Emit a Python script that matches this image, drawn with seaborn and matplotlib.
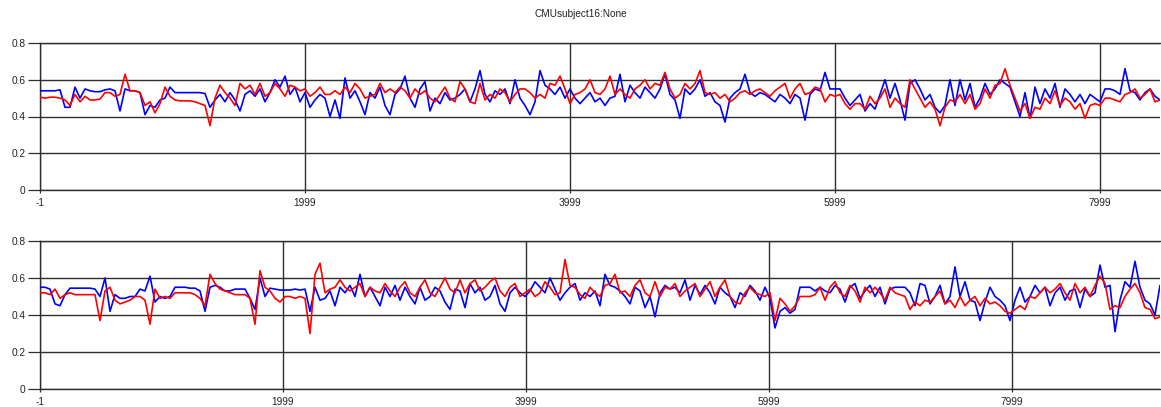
import numpy as np
import pandas as pd
import matplotlib
matplotlib.use("Agg")
import matplotlib.pyplot as plt
import seaborn as sns

# ---------------- data (one value every few frames) ----------------
title = "CMUsubject16:None"
x_ticks = [-1, 1999, 3999, 5999, 7999]
y_ticks = [0, 0.2, 0.4, 0.6, 0.8]
y_tick_labels = ["0", "0.2", "0.4", "0.6", "0.8"]

top_frames_total = 8453
bottom_frames_total = 9217

top_blue = [
    0.54, 0.54, 0.54, 0.54, 0.545, 0.45, 0.45, 0.56, 0.50, 0.55, 0.54, 0.535, 0.535, 0.545, 0.55, 0.54,
    0.43, 0.55, 0.54, 0.54, 0.53, 0.41, 0.46, 0.45, 0.49, 0.50, 0.56, 0.53, 0.53, 0.53, 0.53, 0.53,
    0.53, 0.525, 0.45, 0.49, 0.52, 0.48, 0.53, 0.49, 0.43, 0.52, 0.54, 0.51, 0.55, 0.48, 0.53, 0.60,
    0.56, 0.62, 0.52, 0.56,
    0.48, 0.53, 0.45, 0.49, 0.52, 0.50, 0.40, 0.49, 0.39, 0.61, 0.50, 0.54, 0.48, 0.41, 0.53, 0.50,
    0.56, 0.46, 0.41, 0.52, 0.55, 0.62, 0.50, 0.45, 0.55, 0.59, 0.43, 0.50, 0.47, 0.53, 0.49, 0.50,
    0.52, 0.55, 0.48, 0.55, 0.65, 0.52, 0.48, 0.54, 0.52, 0.55, 0.47, 0.60, 0.50, 0.46, 0.41, 0.48,
    0.65, 0.57, 0.55, 0.52, 0.56, 0.50, 0.55, 0.50,
    0.47, 0.50, 0.53, 0.48, 0.50, 0.46, 0.50, 0.51, 0.63, 0.48, 0.57, 0.53, 0.50, 0.56, 0.53, 0.50,
    0.55, 0.63, 0.52, 0.49, 0.39, 0.55, 0.52, 0.55, 0.60, 0.51, 0.53, 0.48, 0.46, 0.37, 0.50, 0.53,
    0.55, 0.63, 0.53, 0.51, 0.53, 0.52, 0.50, 0.48, 0.52, 0.50, 0.47, 0.52, 0.50, 0.38, 0.52, 0.55,
    0.54, 0.64, 0.55, 0.55, 0.55, 0.50, 0.46, 0.49,
    0.52, 0.43, 0.47, 0.44, 0.52, 0.60, 0.50, 0.58, 0.49, 0.38, 0.58, 0.60, 0.55, 0.49, 0.52, 0.45,
    0.42, 0.46, 0.60, 0.46, 0.60, 0.49, 0.58, 0.45, 0.50, 0.58, 0.52, 0.55, 0.60, 0.58, 0.56, 0.48,
    0.40, 0.53, 0.39, 0.56, 0.47, 0.55, 0.50, 0.58, 0.45, 0.55, 0.52, 0.48, 0.52, 0.47, 0.52, 0.50,
    0.48, 0.55, 0.55, 0.54, 0.52, 0.66, 0.54, 0.53, 0.49, 0.53, 0.55, 0.51, 0.49,
]

top_red = [
    0.505, 0.50, 0.505, 0.505, 0.50, 0.49, 0.46, 0.52, 0.48, 0.51, 0.49, 0.49, 0.495, 0.53, 0.53, 0.51,
    0.52, 0.63, 0.54, 0.54, 0.53, 0.46, 0.48, 0.42, 0.47, 0.56, 0.51, 0.49, 0.485, 0.485, 0.485, 0.48,
    0.47, 0.46, 0.35, 0.50, 0.57, 0.53, 0.50, 0.46, 0.58, 0.55, 0.57, 0.52, 0.58, 0.51, 0.53, 0.58,
    0.55, 0.51, 0.57, 0.56,
    0.54, 0.55, 0.51, 0.53, 0.56, 0.52, 0.52, 0.54, 0.52, 0.56, 0.53, 0.58, 0.55, 0.50, 0.51, 0.52,
    0.58, 0.53, 0.55, 0.53, 0.56, 0.54, 0.50, 0.55, 0.52, 0.54, 0.50, 0.48, 0.52, 0.56, 0.50, 0.48,
    0.59, 0.55, 0.48, 0.47, 0.58, 0.49, 0.52, 0.50, 0.55, 0.53, 0.48, 0.52, 0.55, 0.55, 0.53, 0.50,
    0.52, 0.50, 0.58, 0.57, 0.62, 0.55, 0.47, 0.52,
    0.53, 0.55, 0.60, 0.53, 0.52, 0.55, 0.62, 0.52, 0.55, 0.52, 0.50, 0.55, 0.57, 0.60, 0.55, 0.58,
    0.57, 0.64, 0.55, 0.50, 0.52, 0.58, 0.55, 0.58, 0.65, 0.53, 0.52, 0.53, 0.50, 0.52, 0.48, 0.50,
    0.53, 0.54, 0.52, 0.54, 0.55, 0.53, 0.51, 0.54, 0.56, 0.58, 0.50, 0.55, 0.58, 0.52, 0.53, 0.56,
    0.55, 0.48, 0.52, 0.51, 0.52, 0.47, 0.44, 0.47,
    0.47, 0.44, 0.51, 0.47, 0.50, 0.55, 0.45, 0.50, 0.47, 0.45, 0.60, 0.55, 0.50, 0.45, 0.48, 0.44,
    0.35, 0.45, 0.49, 0.48, 0.52, 0.47, 0.52, 0.44, 0.47, 0.55, 0.50, 0.57, 0.58, 0.66, 0.57, 0.50,
    0.43, 0.47, 0.39, 0.45, 0.44, 0.50, 0.47, 0.54, 0.46, 0.50, 0.48, 0.44, 0.47, 0.39, 0.46, 0.47,
    0.46, 0.50, 0.50, 0.49, 0.48, 0.52, 0.53, 0.55, 0.50, 0.52, 0.55, 0.48, 0.49,
]

bottom_blue = [
    0.55, 0.55, 0.54, 0.46, 0.45, 0.51, 0.545, 0.545, 0.545, 0.545, 0.545, 0.54, 0.50, 0.60, 0.42, 0.51,
    0.49, 0.49, 0.50, 0.50, 0.54, 0.53, 0.61, 0.47, 0.50, 0.49, 0.50, 0.55, 0.55, 0.55, 0.545, 0.545,
    0.53, 0.42, 0.55, 0.56, 0.55, 0.53, 0.53, 0.54, 0.54, 0.54, 0.49, 0.43, 0.60, 0.50, 0.545, 0.54,
    0.535, 0.535, 0.535, 0.54,
    0.535, 0.54, 0.42, 0.55, 0.48, 0.49, 0.53, 0.45, 0.55, 0.52, 0.56, 0.50, 0.62, 0.50, 0.55, 0.50,
    0.45, 0.55, 0.50, 0.56, 0.48, 0.55, 0.50, 0.46, 0.55, 0.48, 0.50, 0.55, 0.53, 0.47, 0.43, 0.54,
    0.53, 0.44, 0.57, 0.52, 0.55, 0.48, 0.50, 0.56, 0.46, 0.42, 0.52, 0.55, 0.52, 0.50, 0.53, 0.58,
    0.55, 0.52, 0.60, 0.54, 0.48, 0.52, 0.55, 0.57,
    0.48, 0.52, 0.50, 0.53, 0.45, 0.62, 0.56, 0.55, 0.53, 0.50, 0.46, 0.55, 0.53, 0.44, 0.50, 0.39,
    0.52, 0.56, 0.54, 0.55, 0.52, 0.59, 0.48, 0.56, 0.51, 0.56, 0.52, 0.46, 0.55, 0.52, 0.50, 0.44,
    0.52, 0.50, 0.56, 0.53, 0.48, 0.55, 0.49, 0.33, 0.42, 0.44, 0.41, 0.43, 0.55, 0.55, 0.55, 0.53,
    0.55, 0.53, 0.52, 0.56, 0.54, 0.47, 0.55, 0.57,
    0.49, 0.53, 0.56, 0.50, 0.55, 0.46, 0.54, 0.55, 0.55, 0.55, 0.52, 0.45, 0.57, 0.56, 0.46, 0.50,
    0.56, 0.46, 0.50, 0.66, 0.50, 0.58, 0.48, 0.47, 0.37, 0.47, 0.55, 0.50, 0.48, 0.45, 0.37, 0.48,
    0.55, 0.47, 0.50, 0.56, 0.52, 0.55, 0.45, 0.52, 0.55, 0.48, 0.53, 0.54, 0.44, 0.54, 0.50, 0.52,
    0.67, 0.55, 0.56, 0.31, 0.48, 0.58, 0.55, 0.69, 0.55, 0.48, 0.46, 0.40, 0.56,
]

bottom_red = [
    0.52, 0.52, 0.51, 0.54, 0.49, 0.51, 0.52, 0.51, 0.51, 0.51, 0.51, 0.51, 0.37, 0.53, 0.55, 0.48,
    0.46, 0.47, 0.48, 0.50, 0.50, 0.48, 0.35, 0.54, 0.49, 0.50, 0.49, 0.52, 0.52, 0.52, 0.52, 0.51,
    0.49, 0.45, 0.62, 0.57, 0.54, 0.53, 0.52, 0.51, 0.51, 0.51, 0.49, 0.35, 0.64, 0.55, 0.53, 0.49,
    0.47, 0.50, 0.50, 0.49,
    0.50, 0.49, 0.30, 0.62, 0.68, 0.52, 0.54, 0.55, 0.59, 0.55, 0.53, 0.55, 0.57, 0.50, 0.55, 0.53,
    0.52, 0.57, 0.53, 0.50, 0.55, 0.58, 0.52, 0.50, 0.55, 0.59, 0.52, 0.50, 0.55, 0.60, 0.54, 0.52,
    0.59, 0.52, 0.57, 0.59, 0.53, 0.55, 0.58, 0.60, 0.53, 0.50, 0.55, 0.57, 0.50, 0.52, 0.54, 0.50,
    0.52, 0.58, 0.55, 0.51, 0.52, 0.70, 0.56, 0.55,
    0.51, 0.49, 0.55, 0.52, 0.50, 0.56, 0.57, 0.62, 0.52, 0.53, 0.50, 0.56, 0.59, 0.52, 0.50, 0.58,
    0.50, 0.55, 0.54, 0.57, 0.50, 0.53, 0.55, 0.57, 0.50, 0.54, 0.58, 0.50, 0.55, 0.59, 0.50, 0.47,
    0.46, 0.52, 0.55, 0.52, 0.51, 0.50, 0.52, 0.37, 0.49, 0.46, 0.42, 0.45, 0.50, 0.50, 0.50, 0.51,
    0.55, 0.48, 0.55, 0.58, 0.52, 0.50, 0.56, 0.53,
    0.47, 0.55, 0.52, 0.55, 0.52, 0.48, 0.55, 0.52, 0.51, 0.50, 0.43, 0.47, 0.45, 0.48, 0.47, 0.50,
    0.53, 0.46, 0.48, 0.44, 0.50, 0.45, 0.48, 0.50, 0.45, 0.49, 0.46, 0.47, 0.45, 0.42, 0.41, 0.43,
    0.45, 0.43, 0.50, 0.49, 0.52, 0.55, 0.52, 0.54, 0.57, 0.52, 0.48, 0.57, 0.52, 0.55, 0.50, 0.56,
    0.61, 0.57, 0.43, 0.45, 0.44, 0.50, 0.54, 0.57, 0.52, 0.44, 0.43, 0.38, 0.39,
]

# ---------------- styling ----------------
sns.set_style("white")
plt.rcParams["font.family"] = ["Liberation Sans", "DejaVu Sans"]

W, H = 1161, 407
fig = plt.figure(figsize=(W / 100, H / 100), dpi=100)
ax_top = fig.add_axes([40 / W, 1 - 190 / H, 1120 / W, 147 / H])
ax_bot = fig.add_axes([40 / W, 1 - 389 / H, 1120 / W, 148 / H])

GRID = "#2e2e2e"
palette = {"blue": "#0000ff", "red": "#ff0000"}


def long_frame(blue, red, total):
    rows = []
    for name, vals in (("blue", blue), ("red", red)):
        n = len(vals)
        frames = np.linspace(-1, total, n)
        rows.append(pd.DataFrame({"frame": frames, "value": vals, "series": name}))
    return pd.concat(rows, ignore_index=True)


def draw(ax, blue, red, total):
    df = long_frame(blue, red, total)
    sns.lineplot(data=df, x="frame", y="value", hue="series", palette=palette,
                 estimator=None, sort=False, legend=False, linewidth=1.2, ax=ax, zorder=3)
    ax.set_xlim(-1, total)
    ax.set_ylim(0, 0.8)
    ax.set_xticks(x_ticks)
    ax.set_xticklabels([str(t) for t in x_ticks])
    ax.set_yticks(y_ticks)
    ax.set_yticklabels(y_tick_labels)
    ax.set_xlabel("")
    ax.set_ylabel("")
    ax.grid(True, color=GRID, linewidth=1.0, zorder=1)
    ax.set_axisbelow(True)
    for side in ("left", "bottom", "top"):
        ax.spines[side].set_visible(True)
        ax.spines[side].set_color(GRID)
        ax.spines[side].set_linewidth(1.0)
    ax.spines["right"].set_visible(False)
    ax.tick_params(axis="y", length=8.6, width=0.9, color=GRID, pad=2.0, labelsize=7.3,
                   labelcolor="#222222", left=True)
    ax.tick_params(axis="x", length=2.5, width=0.9, color=GRID, pad=3.5, labelsize=7.3,
                   labelcolor="#222222", bottom=True)


draw(ax_top, top_blue, top_red, top_frames_total)
draw(ax_bot, bottom_blue, bottom_red, bottom_frames_total)

fig.text(0.5, 1 - 14 / H, title, ha="center", va="center", fontsize=7.2, color="#222222")

fig.savefig("out.png", dpi=100)
